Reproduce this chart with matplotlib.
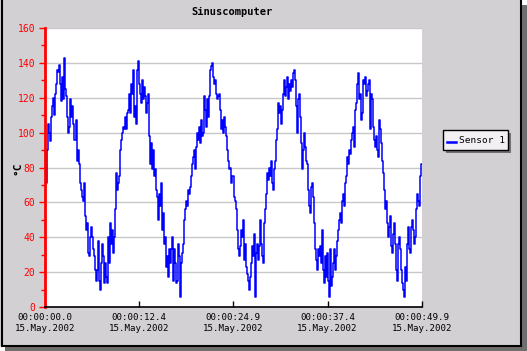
import numpy as np
import matplotlib
matplotlib.use("Agg")
import matplotlib.pyplot as plt
from matplotlib.patches import Rectangle
from matplotlib.ticker import MultipleLocator, FixedLocator

title = "Sinuscomputer"
series_name = "Sensor 1"
y_label = "°C"
x_tick_values = [0.0, 12.4, 24.9, 37.4, 49.9]
x_tick_labels = ["00:00:00.0\n15.May.2002", "00:00:12.4\n15.May.2002",
                 "00:00:24.9\n15.May.2002", "00:00:37.4\n15.May.2002",
                 "00:00:49.9\n15.May.2002"]
t_end = 49.9

seg1 = [80, 71, 90, 105, 100, 95, 109, 115, 120, 110, 122, 128, 136, 135, 139, 128,
        118, 132, 119, 143, 125, 121, 109, 100, 103, 119, 109, 115, 105, 96, 96, 107,
        84, 90, 82, 71, 67, 63, 61, 71, 52, 44, 48, 31, 29, 40, 46, 40, 33, 29, 21,
        15, 21, 38, 15, 10, 25, 36, 29, 14, 25, 17, 14]
seg2 = [40, 25, 48, 36, 44, 31, 40, 56, 77, 67, 71, 75, 90, 96, 100, 103, 102, 109,
        102, 111, 113, 122, 111, 128, 122, 136, 109, 115, 105, 136, 141, 128, 122,
        117, 130, 119, 126, 121, 111, 117, 122, 98, 82, 94, 79, 90, 75, 79, 67, 63,
        50, 65, 58, 71, 44, 54, 36, 40, 23, 29, 17, 33, 25]
seg3 = [33, 40, 15, 33, 25, 14, 15, 36, 29, 6, 25, 31, 36, 50, 56, 61, 58, 67, 65,
        69, 75, 82, 86, 90, 79, 92, 100, 96, 103, 94, 107, 98, 100, 121, 113, 103,
        119, 109, 121, 136, 138, 140, 132, 128, 130, 122, 119, 121, 122, 113, 102,
        107, 100, 109, 103, 98, 90, 84, 79, 80, 71, 75, 63]
seg4 = [61, 56, 44, 33, 29, 35, 44, 40, 50, 27, 36, 23, 19, 15, 10, 17, 25, 35, 29,
        42, 6, 31, 36, 27, 35, 50, 36, 29, 25, 48, 56, 65, 77, 73, 80, 75, 84, 71,
        67, 79, 84, 96, 102, 117, 111, 115, 105, 113, 122, 130, 121, 126, 132, 119,
        128, 124, 130, 126, 134, 136, 130, 115, 100]
seg5 = [119, 122, 109, 94, 79, 90, 100, 92, 84, 82, 67, 58, 54, 69, 71, 63, 48, 33,
        27, 21, 33, 29, 35, 25, 44, 21, 14, 29, 17, 31, 15, 6, 33, 12, 17, 25, 33,
        21, 29, 38, 44, 50, 54, 48, 61, 65, 58, 71, 75, 86, 82, 90, 88, 96, 100, 103,
        92, 113, 117, 128, 134, 119, 122]
seg6 = [107, 111, 130, 128, 132, 121, 124, 128, 130, 102, 122, 119, 103, 96, 92, 98,
        90, 86, 107, 102, 94, 84, 77, 67, 56, 61, 48, 40, 46, 52, 35, 31, 42, 48, 36,
        21, 15, 36, 40, 33, 21, 14, 10, 6, 23, 15, 36, 46, 33, 31, 46, 50, 44, 36,
        40, 56, 65, 61, 58, 75, 82]

values = np.array(seg1 + seg2 + seg3 + seg4 + seg5 + seg6, dtype=float)
n = len(values)
t = np.arange(n) * (t_end / (n - 1))

W, H = 527, 351
fig = plt.figure(figsize=(W / 100, H / 100), dpi=100)
fig.patch.set_facecolor("white")

# shadow and panel
fig.patches.append(Rectangle((5 / W, 0), (W - 5) / W, (H - 5) / H,
                             transform=fig.transFigure, facecolor="#6e6e6e",
                             edgecolor="none", zorder=-10))
fig.patches.append(Rectangle((0, 5 / H), 522 / W, (H - 5) / H,
                             transform=fig.transFigure, facecolor="#d3d0d3",
                             edgecolor="none", zorder=-9))
for xs, ys in [([1.5 / W, 1.5 / W], [5.5 / H, 1]),
               ([520.5 / W, 520.5 / W], [5.5 / H, 1]),
               ([1.5 / W, 520.5 / W], [5.5 / H, 5.5 / H])]:
    fig.lines.append(plt.Line2D(xs, ys, transform=fig.transFigure,
                                color="black", linewidth=1.5, zorder=-8))

ax = fig.add_axes([45 / W, 1 - 307 / H, (422 - 45) / W, (307 - 28) / H])
ax.set_facecolor("white")
ax.plot(t, values, color="#0000ff", linewidth=1.1, drawstyle="steps-mid",
        label=series_name)

ax.set_xlim(0, t_end)
ax.set_ylim(0, 160)

mono = "DejaVu Sans Mono"
ax.yaxis.set_major_locator(MultipleLocator(20))
ax.yaxis.set_minor_locator(MultipleLocator(10))
ax.grid(axis="y", which="major", color="#c8c8c8", linewidth=1.0)
ax.set_axisbelow(True)

for s in ["top", "right"]:
    ax.spines[s].set_visible(False)
ax.spines["left"].set_color("#ff0000")
ax.spines["left"].set_linewidth(2.0)
ax.spines["bottom"].set_color("black")
ax.spines["bottom"].set_linewidth(1.2)

ax.tick_params(axis="y", which="major", colors="#ff0000", length=4, width=1,
               direction="out", labelsize=7, pad=3)
ax.tick_params(axis="y", which="minor", colors="#ff0000", length=3, width=1,
               direction="out")
for lbl in ax.get_yticklabels():
    lbl.set_family(mono)

ax.xaxis.set_major_locator(FixedLocator(x_tick_values))
ax.set_xticklabels(x_tick_labels, family=mono, fontsize=6.6, linespacing=1.3)
ax.tick_params(axis="x", which="major", colors="black", length=4, width=1,
               direction="in", pad=4)

fig.text(232 / W, 1 - 12 / H, title, ha="center", va="center",
         family=mono, fontweight="bold", fontsize=7.5, color="black")
fig.text(17 / W, 1 - 168 / H, y_label, ha="center", va="center", rotation=90,
         family=mono, fontweight="bold", fontsize=8, color="black")

# legend box
fig.patches.append(Rectangle((446 / W, 1 - 153 / H), 65 / W, 20 / H,
                             transform=fig.transFigure, facecolor="#707070",
                             edgecolor="none", zorder=1))
fig.patches.append(Rectangle((443 / W, 1 - 150 / H), 65 / W, 20 / H,
                             transform=fig.transFigure, facecolor="#f2f0f2",
                             edgecolor="black", linewidth=1, zorder=2))
fig.lines.append(plt.Line2D([447 / W, 456 / W], [1 - 142 / H, 1 - 142 / H],
                            transform=fig.transFigure, color="#0000ff",
                            linewidth=1.8, zorder=3))
fig.text(459 / W, 1 - 140 / H, series_name, ha="left", va="center",
         family=mono, fontsize=6.8, color="black", zorder=3)

fig.savefig("out.png", dpi=100, facecolor=fig.get_facecolor())
